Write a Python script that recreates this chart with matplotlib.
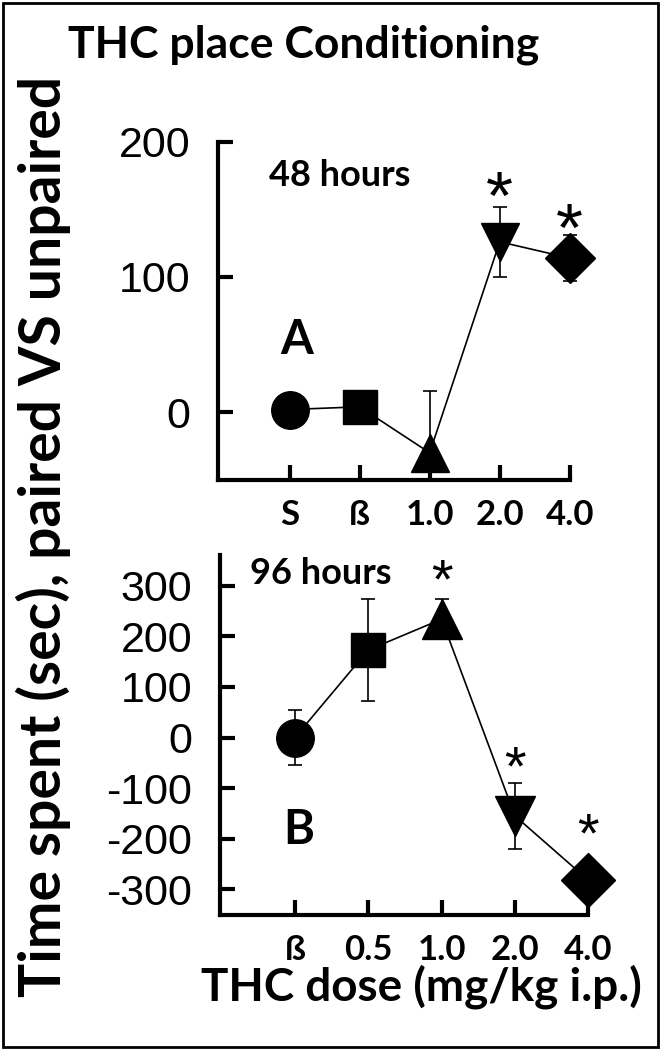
import matplotlib.pyplot as plt
from matplotlib.patches import Rectangle

# panel A (48 hours)
labels_a = ["S", "ß", "1.0", "2.0", "4.0"]
mean_a = [2, 4, -30, 126, 114]
err_lo_a = [0, 0, 10, 26, 17]
err_hi_a = [0, 0, 46, 26, 17]
star_a = [None, None, None, 156, 133]

# panel B (96 hours)
labels_b = ["ß", "0.5", "1.0", "2.0", "4.0"]
mean_b = [0, 173, 234, -155, -282]
err_lo_b = [55, 100, 40, 66, 0]
err_hi_b = [55, 100, 40, 66, 0]
star_b = [None, None, 304, -66, -197]

markers = ["o", "s", "^", "v", "D"]
msizes_a = [27, 24, 27, 27, 25]
msizes_b = [27, 25, 29, 29, 28]

BOLD = ["Lato", "DejaVu Sans"]
NUM = ["Liberation Sans", "DejaVu Sans"]


def draw_panel(ax, labels, mean, err_lo, err_hi, stars, msizes, yticks, ylim, star_size):
    x = list(range(len(labels)))
    ax.plot(x, mean, color="black", lw=1.2, zorder=2, clip_on=False)
    for xi, m, lo, hi in zip(x, mean, err_lo, err_hi):
        if hi > 0:
            ax.errorbar(xi, m, yerr=[[lo], [hi]], color="black", lw=1.2, capsize=5,
                        capthick=1.2, zorder=1, clip_on=False)
    for xi, m, mk, ms in zip(x, mean, markers, msizes):
        ax.plot(xi, m, marker=mk, ms=ms, color="black", zorder=3, clip_on=False)
    for xi, s in zip(x, stars):
        if s is not None:
            ax.text(xi, s, "*", ha="center", va="center", fontsize=star_size,
                    family=NUM, clip_on=False)

    ax.set_xlim(-1.02, 4)
    ax.set_ylim(*ylim)
    ax.set_xticks(x)
    ax.set_xticklabels(labels, family=BOLD, fontweight="bold", fontsize=25)
    ax.set_yticks(yticks)
    ax.set_yticklabels([str(t) for t in yticks], family=NUM, fontsize=31)
    for side in ["top", "right"]:
        ax.spines[side].set_visible(False)
    for side in ["left", "bottom"]:
        ax.spines[side].set_linewidth(3)
    ax.tick_params(axis="both", direction="in", length=11, width=3)
    ax.tick_params(axis="x", pad=14)
    ax.tick_params(axis="y", pad=20)


fig = plt.figure(figsize=(6.61, 10.5), dpi=100)

ax_a = fig.add_axes([0.330, 0.543, 0.532, 0.322])
draw_panel(ax_a, labels_a, mean_a, err_lo_a, err_hi_a, star_a, msizes_a,
           [0, 100, 200], (-50, 200), 50)

ax_b = fig.add_axes([0.333, 0.129, 0.557, 0.342])
draw_panel(ax_b, labels_b, mean_b, err_lo_b, err_hi_b, star_b, msizes_b,
           [300, 200, 100, 0, -100, -200, -300], (-350, 360), 40)

fig.text(0.459, 0.957, "THC place Conditioning", ha="center", va="center",
         family=BOLD, fontweight="bold", fontsize=32)
fig.text(0.066, 0.489, "Time spent (sec), paired VS unpaired", rotation=90,
         ha="center", va="center", family=BOLD,
         fontweight="bold", fontsize=41)
fig.text(0.637, 0.060, "THC dose (mg/kg i.p.)", ha="center", va="center",
         family=BOLD, fontweight="bold", fontsize=33)

fig.text(0.514, 0.833, "48 hours", ha="center", va="center",
         family=BOLD, fontweight="bold", fontsize=26)
fig.text(0.449, 0.676, "A", ha="center", va="center",
         family=BOLD, fontweight="bold", fontsize=34)
fig.text(0.485, 0.454, "96 hours", ha="center", va="center",
         family=BOLD, fontweight="bold", fontsize=26)
fig.text(0.452, 0.210, "B", ha="center", va="center",
         family=BOLD, fontweight="bold", fontsize=34)

fig.patches.append(Rectangle((0.004, 0.003), 0.991, 0.994, transform=fig.transFigure,
                             fill=False, lw=2, color="black"))

fig.savefig("out.png", dpi=100)
